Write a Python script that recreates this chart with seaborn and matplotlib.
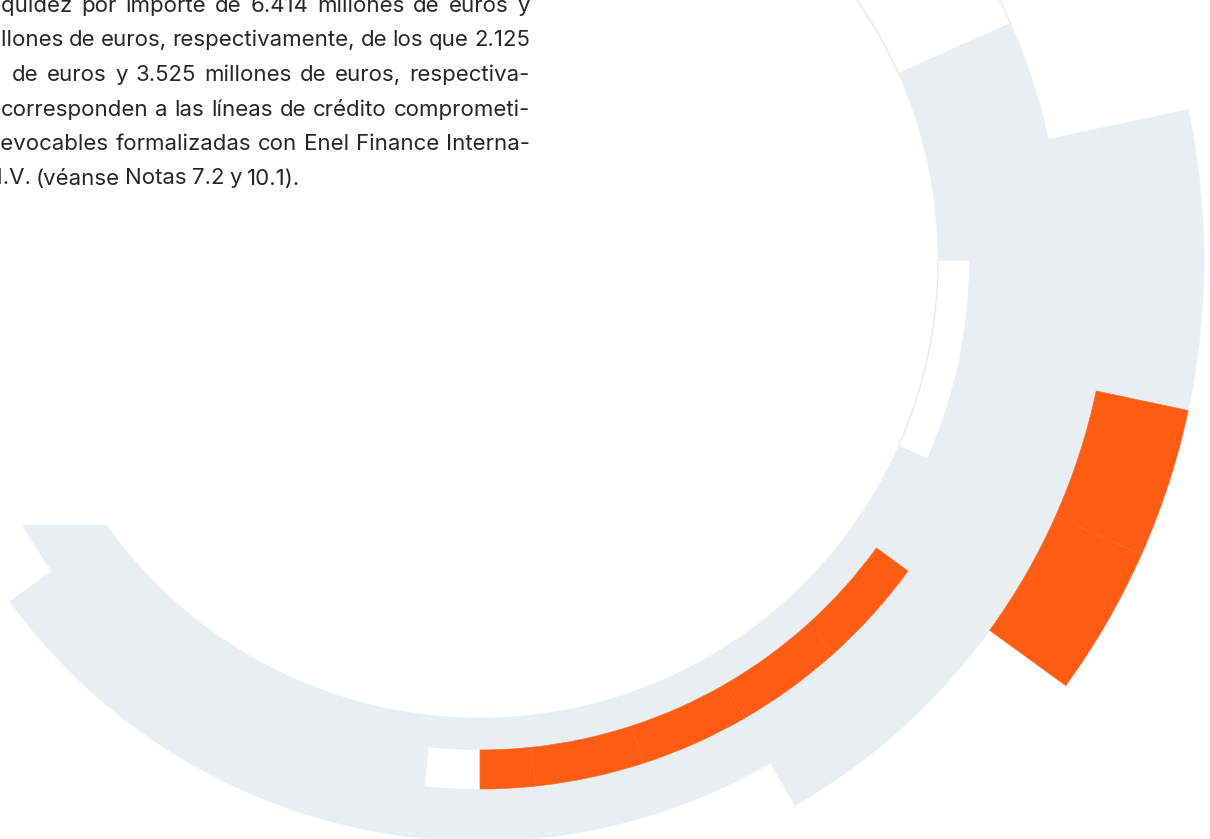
import numpy as np
import matplotlib
matplotlib.use("Agg")
import matplotlib.pyplot as plt
from matplotlib.patches import Rectangle
import seaborn as sns

sns.set_theme(style="white")
plt.rcParams["font.family"] = ["Inter", "DejaVu Sans"]

# ---------------------------------------------------------------------------
# Data: 12-degree sectors listed clockwise (upper angle of each sector, deg)
# and how many rings of each sector are filled.
sector_top = [24, 12, 0, -12, -24, -36, -48, -60, -72, -84, -96, -108,
              -120, -132, -144, -156, -168, -180, -192]
sector_depth = [3, 5, 5, 5, 5, 4, 4, 3, 3, 3, 3, 3, 3, 3, 2, 2, 2, 2, 2]

# Highlighted cells (ring number, angular span in degrees)
hl_ring = [5, 5, 2, 2, 2, 2, 2]
hl_from = [-24, -36, -48, -60, -72, -84, -90]
hl_to = [-12, -24, -36, -48, -60, -72, -84]

# Empty (outlined only) cells
empty_ring = [1, 2, 1]
empty_from = [-24, -96, 24]
empty_to = [0, -90, 36]
empty_depth = [1, 1, 3]

# Paragraph lines: words, index of first visible word, hidden prefix of it
text_lines = [
    ["liquidez", "por", "importe", "de", "6.414", "millones", "de", "euros", "y"],
    ["millones", "de", "euros,", "respectivamente,", "de", "los", "que", "2.125"],
    ["millones", "de", "euros", "y", "3.525", "millones", "de", "euros,", "respectiva-"],
    ["mente,", "corresponden", "a", "las", "líneas", "de", "crédito", "comprometi-"],
    ["das", "e", "irrevocables", "formalizadas", "con", "Enel", "Finance", "Interna-"],
    ["tional", "N.V.", "(véanse", "Notas", "7.2", "y", "10.1)."],
]
anchor_word = [0, 0, 1, 1, 2, 1]
hidden_prefix = ["li", "mi", "", "", "irr", "N"]

# ---------------------------------------------------------------------------
W, H = 1210, 839
CX, CY = 480, 260          # centre of the rings in pixels (from top-left)
RMAX = 740
ring_edges = [458, 490, 529, 581, 630, 724]

GREY = "#E9EEF2"
GREY_EDGE = "#EDF1F4"
ORANGE = "#FF5C13"
ORANGE_EDGE = "#FF6A28"
OUTLINE = "#E3E9EF"
TEXT = "#262626"

fig = plt.figure(figsize=(W / 100, H / 100), dpi=100)
fig.patch.set_facecolor("white")

ax = fig.add_axes([(CX - RMAX) / W, (H - CY - RMAX) / H, 2 * RMAX / W, 2 * RMAX / H],
                  projection="polar")
ax.set_theta_zero_location("E")
ax.set_theta_direction(1)
ax.set_ylim(0, RMAX)
ax.set_axis_off()


def cell(t0, t1, ring, nrings, face, edge, lw, z):
    r0 = ring_edges[ring - 1]
    r1 = ring_edges[ring - 1 + nrings]
    ax.bar(np.deg2rad((t0 + t1) / 2), r1 - r0, width=np.deg2rad(t1 - t0),
           bottom=r0, color=face, edgecolor=edge, linewidth=lw, zorder=z,
           align="center")


def is_empty(rg, a0, a1):
    for er, ef, et, ed in zip(empty_ring, empty_from, empty_to, empty_depth):
        if er <= rg < er + ed and ef <= a0 and a1 <= et:
            return True
    return False


# empty outlined cells sit underneath everything
for rg, a0, a1, d in zip(empty_ring, empty_from, empty_to, empty_depth):
    cell(a0, a1, rg, d, "white", OUTLINE, 1.0, 1)

# grey background cells
for top, depth in zip(sector_top, sector_depth):
    a0, a1 = top - 12, top
    for rg in range(1, depth + 1):
        if is_empty(rg, a0, a1):
            continue
        cell(a0, a1, rg, 1, GREY, GREY_EDGE, 0.5, 2)

# narrower empty cells cut into the grey
for rg, a0, a1 in zip(empty_ring, empty_from, empty_to):
    if (a1 - a0) % 12:
        cell(a0, a1, rg, 1, "white", "white", 0.0, 3)

# highlighted cells
for rg, a0, a1 in zip(hl_ring, hl_from, hl_to):
    cell(a0, a1, rg, 1, ORANGE, ORANGE_EDGE, 0.5, 4)

# the paragraph block masks the ring on the left
fig.add_artist(Rectangle((0, (H - 525) / H), 480 / W, 525 / H,
                         transform=fig.transFigure, facecolor="white",
                         edgecolor="none", zorder=5))

# ---------------------------------------------------------------------------
# Justified paragraph
FS = 16.0
renderer = fig.canvas.get_renderer()


def width_px(s):
    t = fig.text(0, 0, s, fontsize=FS)
    w = t.get_window_extent(renderer).width
    t.remove()
    return w


space_w = width_px("a a") - width_px("aa")
RIGHT = 530
anchor_x = [1.0, 1.0, 12.0, 0.5, 0.5, 2.8]
baselines = [12.5, 46.5, 81.0, 115.5, 150.0, 184.5]

for k, words in enumerate(text_lines):
    ws = [width_px(w) for w in words]
    a = anchor_word[k]
    start = anchor_x[k] - (width_px(hidden_prefix[k]) if hidden_prefix[k] else 0)
    if k < len(text_lines) - 1:
        gap = (RIGHT - start - sum(ws[a:])) / (len(words) - a - 1)
    else:
        gap = 0.8 * space_w
    xs = [0.0] * len(words)
    xs[a] = start
    for i in range(a + 1, len(words)):
        xs[i] = xs[i - 1] + ws[i - 1] + gap
    # hidden leading words sit fully left of the visible area
    for i in range(a - 1, -1, -1):
        xs[i] = min(xs[i + 1] - gap, -1.0) - ws[i]
    for x, w in zip(xs, words):
        fig.text(x / W, 1 - baselines[k] / H, w, fontsize=FS, color=TEXT,
                 ha="left", va="baseline", zorder=6)

fig.savefig("out.png", dpi=100, facecolor="white")
